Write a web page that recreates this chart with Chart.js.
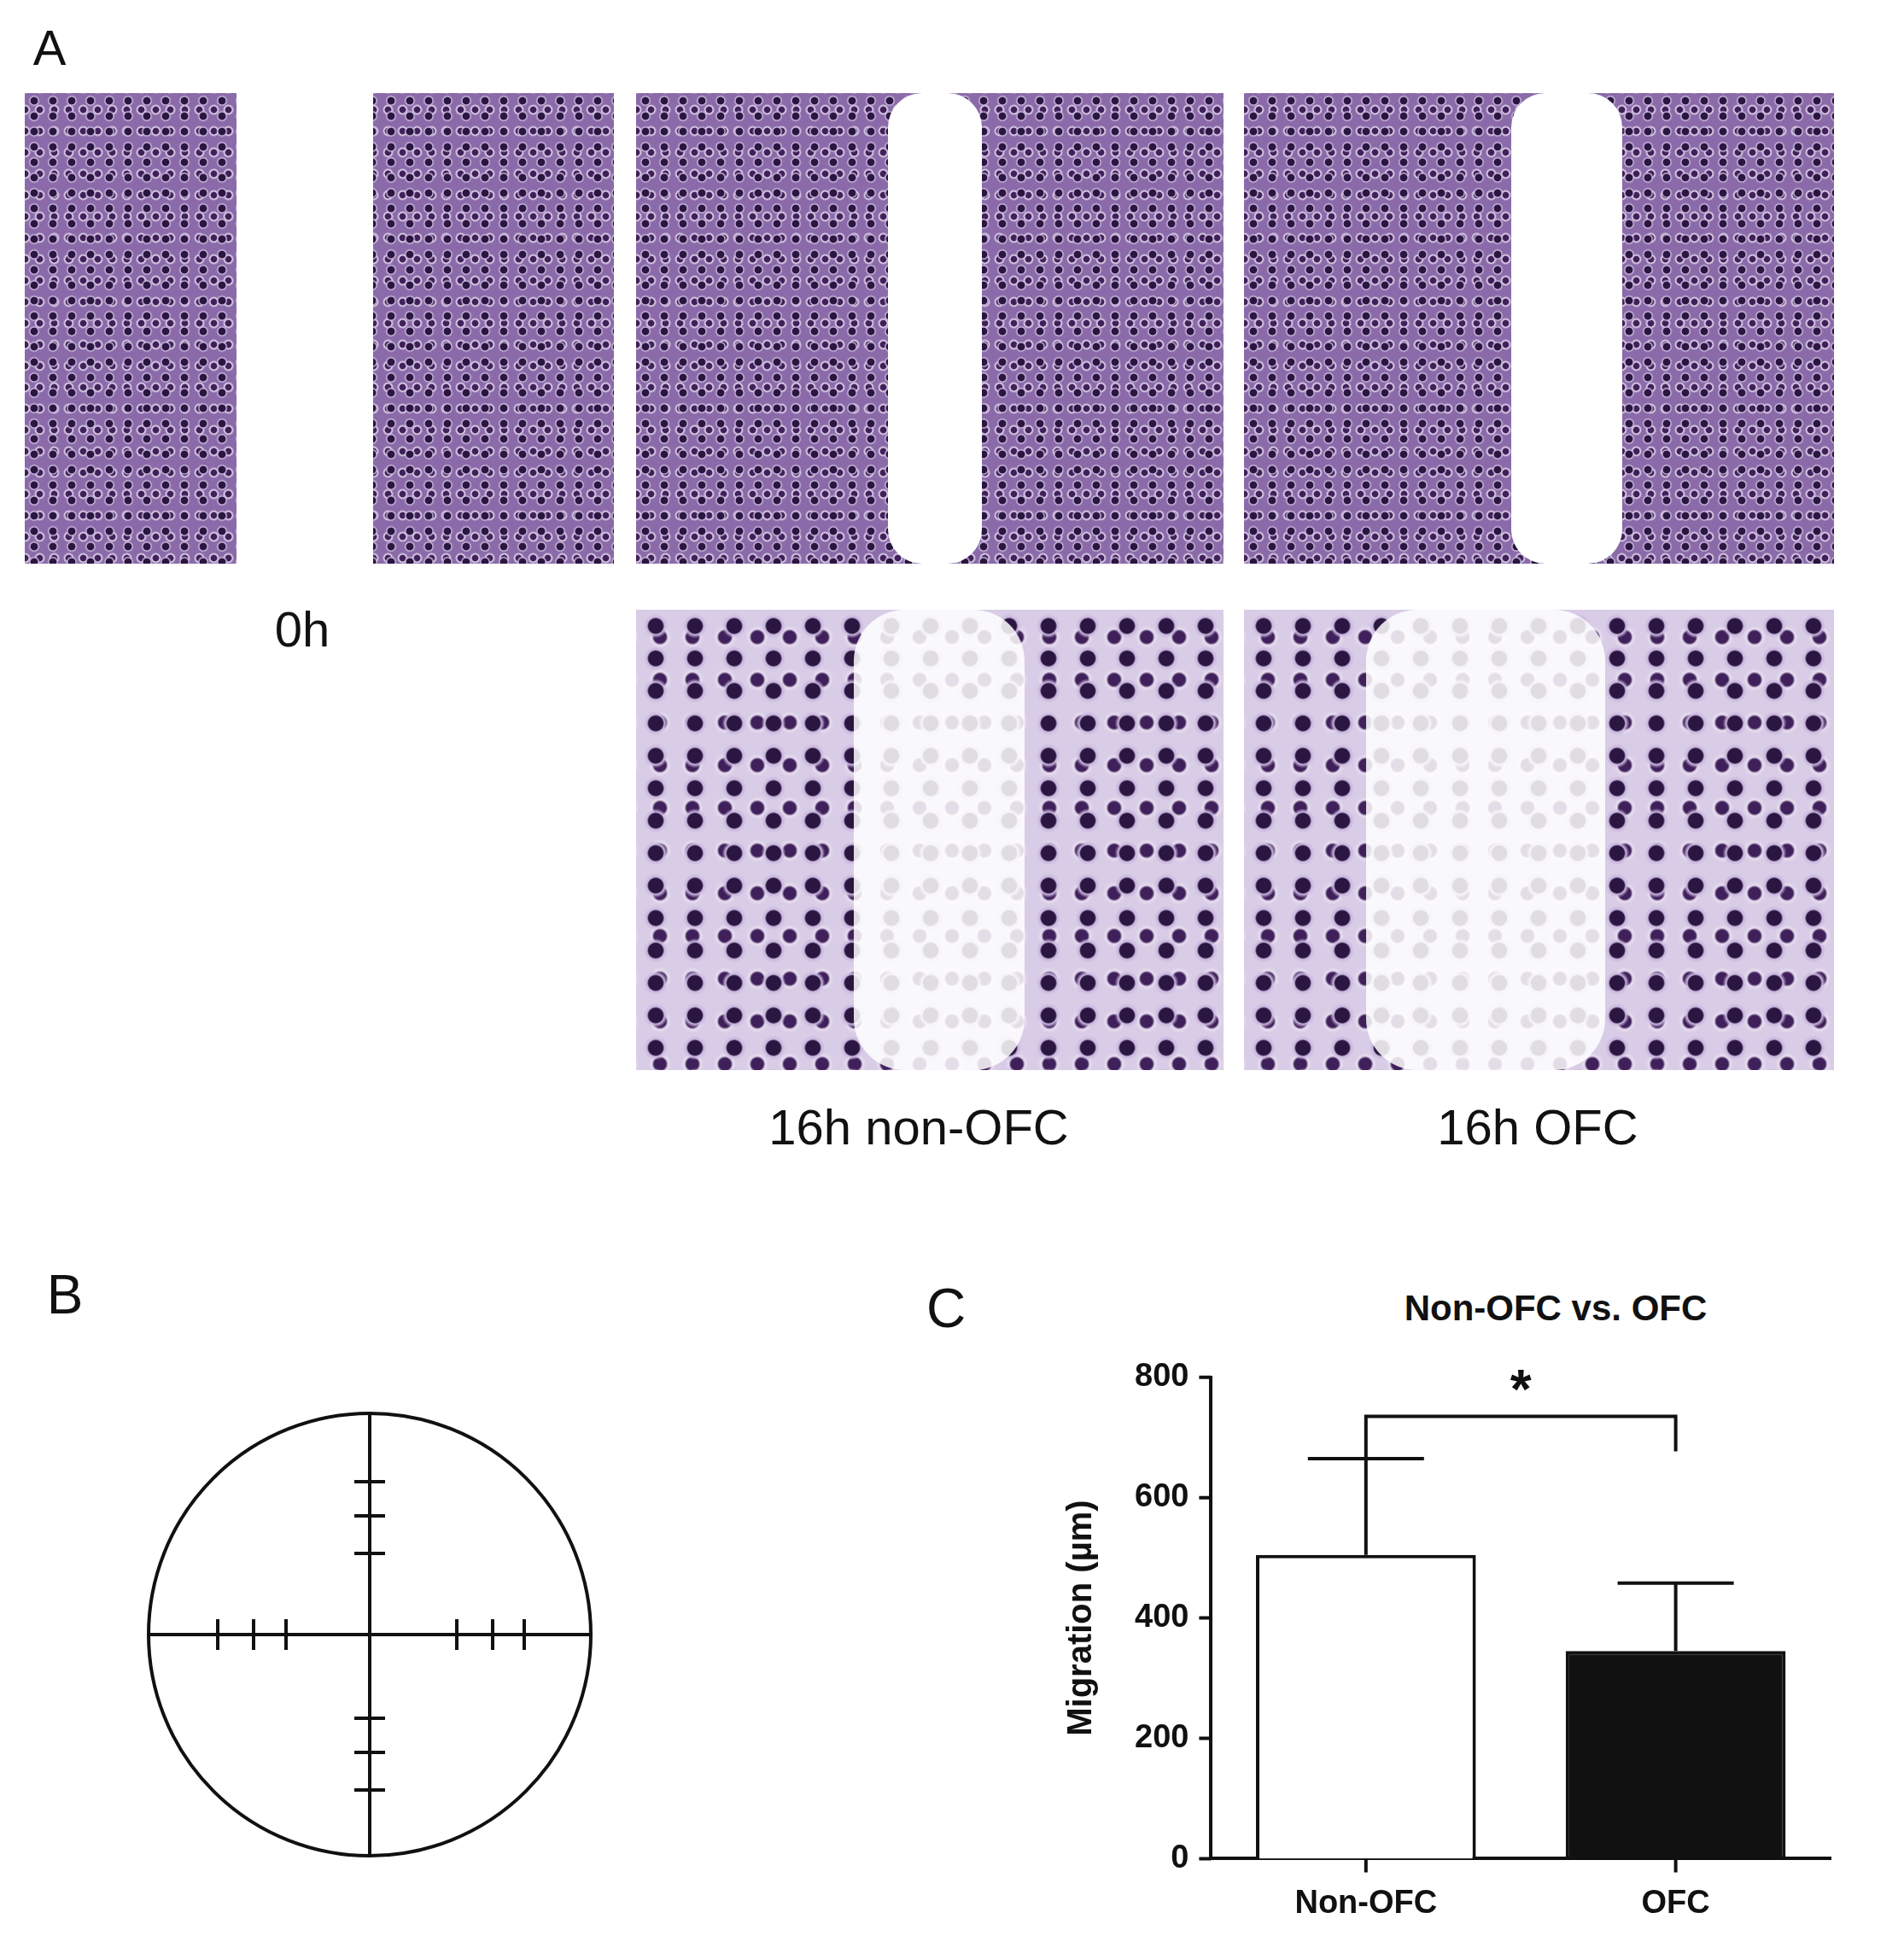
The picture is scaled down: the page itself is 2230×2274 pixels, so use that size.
<!DOCTYPE html>
<html><head><meta charset="utf-8">
<script src="https://cdn.jsdelivr.net/npm/chart.js@4"></script>
<style>
body{margin:0;width:2230px;height:2274px;background:#fff;position:relative;font-family:"Liberation Sans",Arial,sans-serif;overflow:hidden}
.t{position:absolute;color:#111;white-space:nowrap;transform:translate(-50%,-50%)}
.img{position:absolute;background-color:#8a6aa8;
background-image:radial-gradient(circle at 50% 50%,#2a1640 0 28%,#c9b6de 34%,transparent 48%),radial-gradient(circle at 50% 50%,#40205a 0 22%,#e6dcef 30%,transparent 44%);
background-size:22px 18px,17px 25px;background-position:0 0,9px 7px}
.big{background-size:46px 38px,38px 50px;background-color:#d8cce6}
.gap{position:absolute;background:#fff}
#wrap{position:absolute;left:1209px;top:1572px;width:943px;height:702px}
</style></head><body>
<div class="t" style="left:58px;top:55px;font-size:58px">A</div>
<div class="img" style="left:29px;top:109px;width:690px;height:551px"></div>
<div class="gap" style="left:277px;top:109px;width:160px;height:551px"></div>
<div class="img" style="left:745px;top:109px;width:688px;height:551px"></div>
<div class="gap" style="left:1040px;top:109px;width:110px;height:551px;border-radius:40px"></div>
<div class="img" style="left:1457px;top:109px;width:691px;height:551px"></div>
<div class="gap" style="left:1770px;top:109px;width:130px;height:551px;border-radius:40px"></div>
<div class="img big" style="left:745px;top:714px;width:688px;height:539px"></div>
<div class="gap" style="left:1000px;top:714px;width:200px;height:539px;border-radius:60px;opacity:.85"></div>
<div class="img big" style="left:1457px;top:714px;width:691px;height:539px"></div>
<div class="gap" style="left:1600px;top:714px;width:280px;height:539px;border-radius:60px;opacity:.85"></div>
<div class="t" style="left:354px;top:736px;font-size:58px">0h</div>
<div class="t" style="left:1076px;top:1319px;font-size:58px">16h non-OFC</div>
<div class="t" style="left:1801px;top:1319px;font-size:58px">16h OFC</div>
<div class="t" style="left:76px;top:1516px;font-size:64px">B</div>
<div class="t" style="left:1108px;top:1532px;font-size:64px">C</div>
<div class="t" style="left:1822px;top:1532px;font-size:42px;font-weight:bold">Non-OFC vs. OFC</div>
<svg style="position:absolute;left:0;top:0" width="2230" height="2274">
<g stroke="#111" stroke-width="4" fill="none">
<circle cx="433" cy="1914" r="259"/>
<line x1="174" y1="1914" x2="692" y2="1914"/><line x1="433" y1="1655" x2="433" y2="2173"/>
<line x1="255" y1="1896" x2="255" y2="1932"/><line x1="297" y1="1896" x2="297" y2="1932"/><line x1="335" y1="1896" x2="335" y2="1932"/>
<line x1="535" y1="1896" x2="535" y2="1932"/><line x1="577" y1="1896" x2="577" y2="1932"/><line x1="614" y1="1896" x2="614" y2="1932"/>
<line x1="415" y1="1735" x2="451" y2="1735"/><line x1="415" y1="1775" x2="451" y2="1775"/><line x1="415" y1="1819" x2="451" y2="1819"/>
<line x1="415" y1="2012" x2="451" y2="2012"/><line x1="415" y1="2052" x2="451" y2="2052"/><line x1="415" y1="2096" x2="451" y2="2096"/>
</g></svg>
<div id="wrap"><canvas id="c"></canvas></div>
<script>
const categories=["Non-OFC","OFC"];
const means=[505,345];
const errors=[160,113];
const yTicks=[0,200,400,600,800];
const bracket={left:665,right:677,top:735,label:"*"};
const barColors=["#ffffff","#111111"];
const extras={id:"extras",afterDatasetsDraw(ch){
 const c=ch.ctx,x=ch.scales.x,y=ch.scales.y;
 c.save();c.strokeStyle="#111";c.lineWidth=4;
 means.forEach((m,i)=>{const px=x.getPixelForValue(i);
  c.beginPath();c.moveTo(px,y.getPixelForValue(m));c.lineTo(px,y.getPixelForValue(m+errors[i]));
  c.moveTo(px-68,y.getPixelForValue(m+errors[i]));c.lineTo(px+68,y.getPixelForValue(m+errors[i]));c.stroke();});
 const x0=x.getPixelForValue(0),x1=x.getPixelForValue(1);
 c.beginPath();c.moveTo(x0,y.getPixelForValue(bracket.left));c.lineTo(x0,y.getPixelForValue(bracket.top));
 c.lineTo(x1,y.getPixelForValue(bracket.top));c.lineTo(x1,y.getPixelForValue(bracket.right));c.stroke();
 c.fillStyle="#111";c.font="bold 64px 'Liberation Sans'";c.textAlign="center";c.textBaseline="alphabetic";
 c.fillText(bracket.label,(x0+x1)/2,y.getPixelForValue(bracket.top)-10);
 c.restore();}};
new Chart(document.getElementById("c"),{type:"bar",
 data:{labels:categories,datasets:[{data:means,backgroundColor:barColors,borderColor:"#111",borderWidth:4,borderSkipped:"bottom",barPercentage:0.71,categoryPercentage:1}]},
 options:{responsive:true,maintainAspectRatio:false,animation:false,
  layout:{padding:{top:40,right:8,left:30}},
  plugins:{legend:{display:false},tooltip:{enabled:false}},
  scales:{
   x:{grid:{display:false},border:{color:"#111",width:4},
      ticks:{color:"#111",font:{family:"Liberation Sans",weight:"bold",size:38},padding:22}},
   y:{min:0,max:800,afterBuildTicks:a=>{a.ticks=yTicks.map(v=>({value:v}))},
      grid:{display:false},border:{color:"#111",width:4},
      ticks:{color:"#111",font:{family:"Liberation Sans",weight:"bold",size:38},padding:18},
      title:{display:true,text:"Migration (µm)",color:"#111",padding:{bottom:20},font:{family:"Liberation Sans",weight:"bold",size:40}}}}},
 plugins:[extras,{id:"tk",afterDraw(ch){const c=ch.ctx,x=ch.scales.x,y=ch.scales.y;c.save();c.strokeStyle="#111";c.lineWidth=4;c.beginPath();
  yTicks.forEach(v=>{const p=y.getPixelForValue(v);c.moveTo(x.left-14,p);c.lineTo(x.left,p);});
  [0,1].forEach(i=>{const p=x.getPixelForValue(i);c.moveTo(p,y.bottom);c.lineTo(p,y.bottom+16);});c.stroke();c.restore();}}]
});
</script></body></html>
